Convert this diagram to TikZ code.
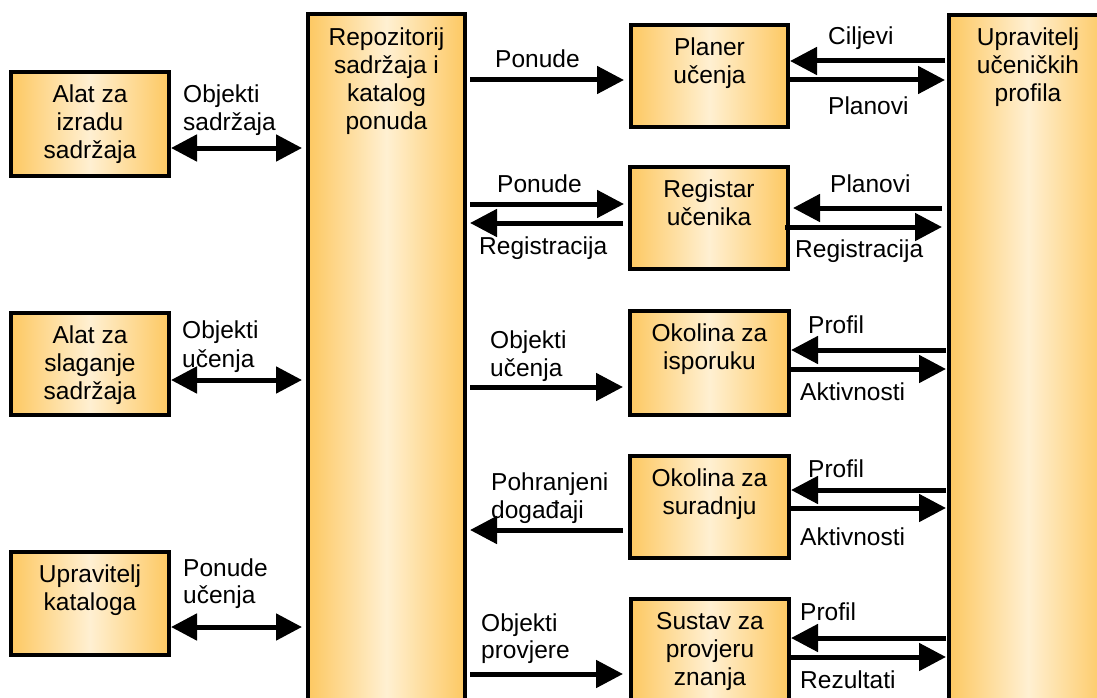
\documentclass[tikz,border=0pt]{standalone}
\usepackage{fontspec}
\setmainfont{Liberation Sans}
\usetikzlibrary{arrows.meta}
\definecolor{boxedge}{HTML}{FDC862}
\definecolor{boxmid}{HTML}{FFF0D2}
\tikzset{
  every node/.style={font=\fontsize{24.5}{28}\selectfont},
  box/.style={draw=black, line width=4pt, rectangle, anchor=north west,
    left color=boxedge, right color=boxedge, middle color=boxmid,
    minimum width=158pt, minimum height=102pt, inner sep=0pt},
  boxtext/.style={anchor=north, inner sep=0pt, align=center},
  lbl/.style={anchor=base west, inner sep=0pt},
  flow/.style={line width=5pt, -{Triangle[length=27pt,width=27pt]}},
  both/.style={line width=5pt, {Triangle[length=26pt,width=26pt]}-{Triangle[length=26pt,width=26pt]}}
}
\begin{document}
\begin{tikzpicture}[x=1pt,y=-1pt]
\clip (0,0) rectangle (1097,698);
\fill[white] (0,0) rectangle (1097,698);

% left column of tools
\node[box, minimum height=104pt] (izrada) at (9,70) {};
\node[boxtext] (izradaT) at ([yshift=-15pt]izrada.north) {Alat za\\izradu\\sadržaja};
\node[box] (slaganje) at (9,311) {};
\node[boxtext] (slaganjeT) at ([yshift=-15pt]slaganje.north) {Alat za\\slaganje\\sadržaja};
\node[box, minimum height=103pt] (katalog) at (9,550) {};
\node[boxtext] (katalogT) at ([yshift=-15pt]katalog.north) {Upravitelj\\kataloga};

% repository
\node[box, minimum width=157pt, minimum height=704pt] (repo) at (306,12) {};
\node[boxtext] (repoT) at ([yshift=-16pt]repo.north) {Repozitorij\\sadržaja i\\katalog\\ponuda};

% middle column of services
\node[box, minimum width=157pt] (planer) at (629,23) {};
\node[boxtext] (planerT) at ([yshift=-15pt]planer.north) {Planer\\učenja};
\node[box] (registar) at (628,165) {};
\node[boxtext] (registarT) at ([yshift=-15pt]registar.north) {Registar\\učenika};
\node[box, minimum width=159pt, minimum height=104pt] (isporuka) at (628,309) {};
\node[boxtext] (isporukaT) at ([yshift=-15pt]isporuka.north) {Okolina za\\isporuku};
\node[box, minimum width=159pt] (suradnja) at (628,454) {};
\node[boxtext] (suradnjaT) at ([yshift=-15pt]suradnja.north) {Okolina za\\suradnju};
\node[box, minimum height=130pt] (provjera) at (629,597) {};
\node[boxtext] (provjeraT) at ([yshift=-15pt]provjera.north) {Sustav za\\provjeru\\znanja};

% learner profile manager
\node[box, minimum height=703pt] (profili) at (947,13) {};
\node[boxtext] (profiliT) at ([yshift=-15pt]profili.north) {Upravitelj\\učeničkih\\profila};

% tools <-> repository
\draw[both, shorten >=4pt] (izrada.east |- 0,148) -- (repo.west |- 0,148);
\draw[both, shorten >=4pt] (slaganje.east |- 0,380) -- (repo.west |- 0,380);
\draw[both, shorten >=4pt] (katalog.east |- 0,627) -- (repo.west |- 0,627);
\node[lbl] (l1) at (183,103) {Objekti};
\node[lbl] (l2) at (183,131) {sadržaja};
\node[lbl] (l3) at (182,338) {Objekti};
\node[lbl] (l4) at (182,367) {učenja};
\node[lbl] (l5) at (183,576) {Ponude};
\node[lbl] (l6) at (183,603) {učenja};

% repository <-> services
\draw[flow, shorten <=3pt, shorten >=5pt] (repo.east |- 0,80) -- (planer.west |- 0,80);
\draw[flow, shorten <=3pt, shorten >=4pt] (repo.east |- 0,204) -- (registar.west |- 0,204);
\draw[flow, shorten <=5pt, shorten >=3pt] (registar.west |- 0,223) -- (repo.east |- 0,223);
\draw[flow, shorten <=3pt, shorten >=5pt] (repo.east |- 0,387) -- (isporuka.west |- 0,387);
\draw[flow, shorten <=5pt, shorten >=3pt] (suradnja.west |- 0,530) -- (repo.east |- 0,530);
\draw[flow, shorten <=3pt, shorten >=6pt] (repo.east |- 0,674) -- (provjera.west |- 0,674);
\node[lbl] (l7) at (495,68) {Ponude};
\node[lbl] (l8) at (497,192) {Ponude};
\node[lbl] (l9) at (479,254) {Registracija};
\node[lbl] (l10) at (490,348) {Objekti};
\node[lbl] (l11) at (490,376) {učenja};
\node[lbl] (l12) at (491,490) {Pohranjeni};
\node[lbl] (l13) at (491,518) {događaji};
\node[lbl] (l14) at (481,631) {Objekti};
\node[lbl] (l15) at (481,658) {provjere};

% services <-> profile manager
\draw[flow, shorten <=2pt] (profili.west |- 0,61) -- (planer.east |- 0,61);
\draw[flow, shorten >=2pt] (planer.east |- 0,80) -- (profili.west |- 0,80);
\draw[flow, shorten <=5pt, shorten >=3pt] (profili.west |- 0,208) -- (registar.east |- 0,208);
\draw[flow, shorten <=-5pt, shorten >=5pt] (registar.east |- 0,227) -- (profili.west |- 0,227);
\draw[flow, shorten <=1pt] (profili.west |- 0,350) -- (isporuka.east |- 0,350);
\draw[flow, shorten >=1pt] (isporuka.east |- 0,369) -- (profili.west |- 0,369);
\draw[flow, shorten <=1pt] (profili.west |- 0,490) -- (suradnja.east |- 0,490);
\draw[flow, shorten >=1pt] (suradnja.east |- 0,508) -- (profili.west |- 0,508);
\draw[flow, shorten <=1pt] (profili.west |- 0,638) -- (provjera.east |- 0,638);
\draw[flow, shorten >=1pt] (provjera.east |- 0,657) -- (profili.west |- 0,657);
\node[lbl] (l16) at (828,45) {Ciljevi};
\node[lbl] (l17) at (828,115) {Planovi};
\node[lbl] (l18) at (830,192) {Planovi};
\node[lbl] (l19) at (795,257) {Registracija};
\node[lbl] (l20) at (808,333) {Profil};
\node[lbl] (l21) at (800,400) {Aktivnosti};
\node[lbl] (l22) at (808,477) {Profil};
\node[lbl] (l23) at (800,545) {Aktivnosti};
\node[lbl] (l24) at (800,620) {Profil};
\node[lbl] (l25) at (800,688) {Rezultati};
\end{tikzpicture}
\end{document}
